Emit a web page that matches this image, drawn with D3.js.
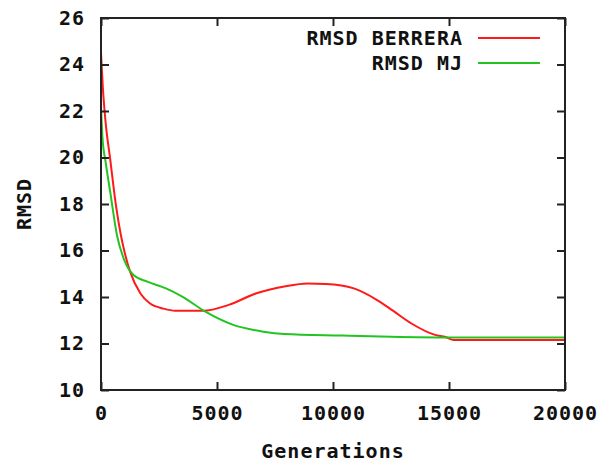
<!DOCTYPE html>
<html>
<head>
<meta charset="utf-8">
<script src="https://cdn.jsdelivr.net/npm/d3@7"></script>
<style>
  body { margin: 0; background: #fff; }
  svg text { font-family: "DejaVu Sans Mono", monospace; font-weight: bold; fill: #111; font-size: 20px; letter-spacing: 1px; }
</style>
</head>
<body>
<div id="chart"></div>
<script>
let width = 605, height = 462;

// data
const gensBerrera = [0, 80, 200, 400, 650, 850, 1000, 1250, 1700, 2100, 2700, 3200, 4400, 5500, 6700, 7900, 8900, 9700, 10900, 11900, 12600, 13400, 14400, 14850, 15200, 20000];
const rmsdBerrera = [24.5, 23.0, 21.5, 19.9, 17.9, 16.7, 16.0, 15.1, 14.15, 13.73, 13.5, 13.41, 13.41, 13.66, 14.16, 14.45, 14.58, 14.56, 14.37, 13.87, 13.4, 12.85, 12.37, 12.28, 12.15, 12.15];
const gensMJ = [0, 60, 200, 400, 700, 1000, 1400, 2000, 2800, 3500, 4500, 5700, 7000, 7900, 10400, 12500, 15000, 20000];
const rmsdMJ = [22.2, 20.9, 19.8, 18.5, 16.6, 15.6, 14.95, 14.66, 14.37, 14.02, 13.37, 12.8, 12.51, 12.41, 12.34, 12.29, 12.26, 12.26];
const seriesNames = ["RMSD BERRERA", "RMSD MJ"];
const seriesColors = ["#ff1a1a", "#22c422"];
const xTicks = [0, 5000, 10000, 15000, 20000];
const yTicks = [10, 12, 14, 16, 18, 20, 22, 24, 26];

const margin = {left: 101, right: 40, top: 18, bottom: 72};

let x = d3.scaleLinear().domain([0, 20000]).range([margin.left, width - margin.right]);
let y = d3.scaleLinear().domain([10, 26]).range([height - margin.bottom, margin.top]);

let svg = d3.select("#chart").append("svg")
  .attr("width", width)
  .attr("height", height);

// lines
let series = [
  gensBerrera.map((g, i) => [g, rmsdBerrera[i]]),
  gensMJ.map((g, i) => [g, rmsdMJ[i]])
];
let line = d3.line().x(d => x(d[0])).y(d => y(d[1])).curve(d3.curveMonotoneX);

svg.selectAll(".series")
  .data(series)
  .join("path")
  .attr("class", "series")
  .attr("fill", "none")
  .attr("stroke", (d, i) => seriesColors[i])
  .attr("stroke-width", 2)
  .attr("d", line);

// axes, ticks inside, mirrored
const tick = 8;
let fmt = d3.format("d");
let xAxis = svg.append("g").attr("transform", `translate(0,${y(10)})`)
  .call(d3.axisBottom(x).tickValues(xTicks).tickFormat(fmt).tickSizeInner(-tick).tickSizeOuter(0).tickPadding(16));
let xTop = svg.append("g").attr("transform", `translate(0,${y(26)})`)
  .call(d3.axisTop(x).tickValues(xTicks).tickSizeInner(-tick).tickSizeOuter(0).tickFormat(""));
let yAxis = svg.append("g").attr("transform", `translate(${x(0)},0)`)
  .call(d3.axisLeft(y).tickValues(yTicks).tickFormat(fmt).tickSizeInner(-tick).tickSizeOuter(0).tickPadding(16));
let yRight = svg.append("g").attr("transform", `translate(${x(20000)},0)`)
  .call(d3.axisRight(y).tickValues(yTicks).tickSizeInner(-tick).tickSizeOuter(0).tickFormat(""));

svg.selectAll("g").attr("font-size", null).attr("font-family", null);
svg.selectAll(".domain").remove();
svg.selectAll(".tick line").attr("stroke", "#222").attr("stroke-width", 2);

svg.append("rect")
  .attr("x", x(0)).attr("y", y(26))
  .attr("width", x(20000) - x(0)).attr("height", y(10) - y(26))
  .attr("fill", "none").attr("stroke", "#222").attr("stroke-width", 2);

// axis titles
svg.append("text")
  .attr("x", (x(0) + x(20000)) / 2).attr("y", 458)
  .attr("text-anchor", "middle")
  .text("Generations");

svg.append("text")
  .attr("transform", `translate(31,${y(18)}) rotate(-90)`)
  .attr("text-anchor", "middle")
  .text("RMSD");

// legend
let legend = svg.selectAll(".legend")
  .data(seriesNames)
  .join("g")
  .attr("class", "legend")
  .attr("transform", (d, i) => `translate(0,${38 + i * 25})`);

legend.append("text")
  .attr("x", 463).attr("dy", "0.35em")
  .attr("text-anchor", "end")
  .text(d => d);

legend.append("line")
  .attr("x1", 478).attr("x2", 540)
  .attr("stroke", (d, i) => seriesColors[i])
  .attr("stroke-width", 2);
</script>
</body>
</html>
